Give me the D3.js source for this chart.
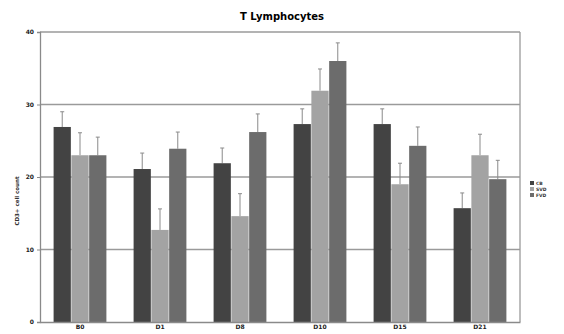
<!DOCTYPE html>
<html><head><meta charset="utf-8">
<script src="https://cdn.jsdelivr.net/npm/d3@7"></script>
<style>body{margin:0;background:#fff}svg{display:block}</style>
</head><body>
<script>
const categories = ["B0","D1","D8","D10","D15","D21"];
const seriesNames = ["CB","SVD","FVD"];
const valuesCB  = [26.9, 21.1, 21.9, 27.3, 27.3, 15.7];
const valuesSVD = [23.0, 12.7, 14.6, 31.9, 19.0, 23.0];
const valuesFVD = [23.0, 23.9, 26.2, 36.0, 24.3, 19.7];
const errCB  = [2.1, 2.2, 2.1, 2.1, 2.1, 2.1];
const errSVD = [3.1, 2.9, 3.1, 3.0, 2.9, 2.9];
const errFVD = [2.5, 2.3, 2.5, 2.5, 2.6, 2.6];
const yTicks = [0,10,20,30,40];
const colors = ["#434343","#a3a3a3","#6c6c6c"];

const W=564,H=334;
const m={l:40,r:44,t:32,b:12};
const svg=d3.select("body").append("svg").attr("width",W).attr("height",H);
const x=d3.scaleBand().domain(categories).range([m.l,W-m.r]).paddingInner(0.34).paddingOuter(0.17);
const x1=d3.scaleBand().domain(seriesNames).range([0,x.bandwidth()]).paddingInner(0.03);
const y=d3.scaleLinear().domain([0,40]).range([H-m.b,m.t]);

// grid
svg.append("g").selectAll("line").data(yTicks.slice(1)).join("line")
  .attr("x1",m.l).attr("x2",W-m.r).attr("y1",d=>y(d)).attr("y2",d=>y(d))
  .attr("stroke","#9a9a9a").attr("stroke-width",1.3);
// right border
svg.append("line").attr("x1",W-m.r).attr("x2",W-m.r).attr("y1",y(40)).attr("y2",y(0))
  .attr("stroke","#9a9a9a").attr("stroke-width",1.3);

const series=[valuesCB,valuesSVD,valuesFVD];
const errs=[errCB,errSVD,errFVD];
const g=svg.append("g");
series.forEach((vals,si)=>{
  const gs=g.append("g");
  const cx=(i)=>x(categories[i])+x1(seriesNames[si])+x1.bandwidth()/2;
  gs.selectAll("line.err").data(vals).join("line").attr("class","err")
    .attr("x1",(d,i)=>cx(i)).attr("x2",(d,i)=>cx(i))
    .attr("y1",d=>y(d)).attr("y2",(d,i)=>y(d+errs[si][i]))
    .attr("stroke","#8a8a8a").attr("stroke-width",1);
  gs.selectAll("line.cap").data(vals).join("line").attr("class","cap")
    .attr("x1",(d,i)=>cx(i)-2).attr("x2",(d,i)=>cx(i)+2)
    .attr("y1",(d,i)=>y(d+errs[si][i])).attr("y2",(d,i)=>y(d+errs[si][i]))
    .attr("stroke","#8a8a8a").attr("stroke-width",1);
  gs.selectAll("rect").data(vals).join("rect")
    .attr("x",(d,i)=>x(categories[i])+x1(seriesNames[si]))
    .attr("width",x1.bandwidth())
    .attr("y",d=>y(d)).attr("height",d=>y(0)-y(d))
    .attr("fill",colors[si]);
});

// axes
const ya=svg.append("g").attr("transform",`translate(${m.l},0)`)
  .call(d3.axisLeft(y).tickValues(yTicks).tickSize(3).tickFormat(d3.format("d")));
ya.select(".domain").attr("stroke","#8a8a8a").attr("stroke-width",1.3);
ya.selectAll(".tick line").attr("stroke","#8a8a8a");
ya.selectAll("text").attr("font-family","DejaVu Sans").attr("font-size",6).attr("font-weight","bold").attr("fill","#222");
const xa=svg.append("g").attr("transform",`translate(0,${y(0)})`)
  .call(d3.axisBottom(x).tickSize(0).tickPadding(3));
xa.select(".domain").attr("stroke","#8a8a8a").attr("stroke-width",1.3);
xa.selectAll("text").attr("font-family","DejaVu Sans").attr("font-size",6).attr("font-weight","bold").attr("fill","#222");

// title
svg.append("text").attr("x",(m.l+W-m.r)/2+2).attr("y",20).attr("text-anchor","middle")
  .attr("font-family","DejaVu Sans").attr("font-weight","bold").attr("font-size",10).text("T Lymphocytes");
// y label
svg.append("text").attr("transform",`translate(19,${(m.t+H-m.b)/2+24}) rotate(-90)`)
  .attr("text-anchor","middle").attr("font-family","DejaVu Sans").attr("font-size",5.5).attr("font-weight","bold")
  .attr("fill","#333").text("CD3+ cell count");

// legend
const lg=svg.append("g").attr("transform","translate(530,181)");
seriesNames.forEach((s,i)=>{
  lg.append("rect").attr("x",0).attr("y",i*6).attr("width",4).attr("height",4).attr("fill",colors[i]);
  lg.append("text").attr("x",6).attr("y",i*6+4).attr("font-family","DejaVu Sans").attr("font-size",4.5)
    .attr("font-weight","bold").attr("fill","#333").text(s);
});
</script>
</body></html>
